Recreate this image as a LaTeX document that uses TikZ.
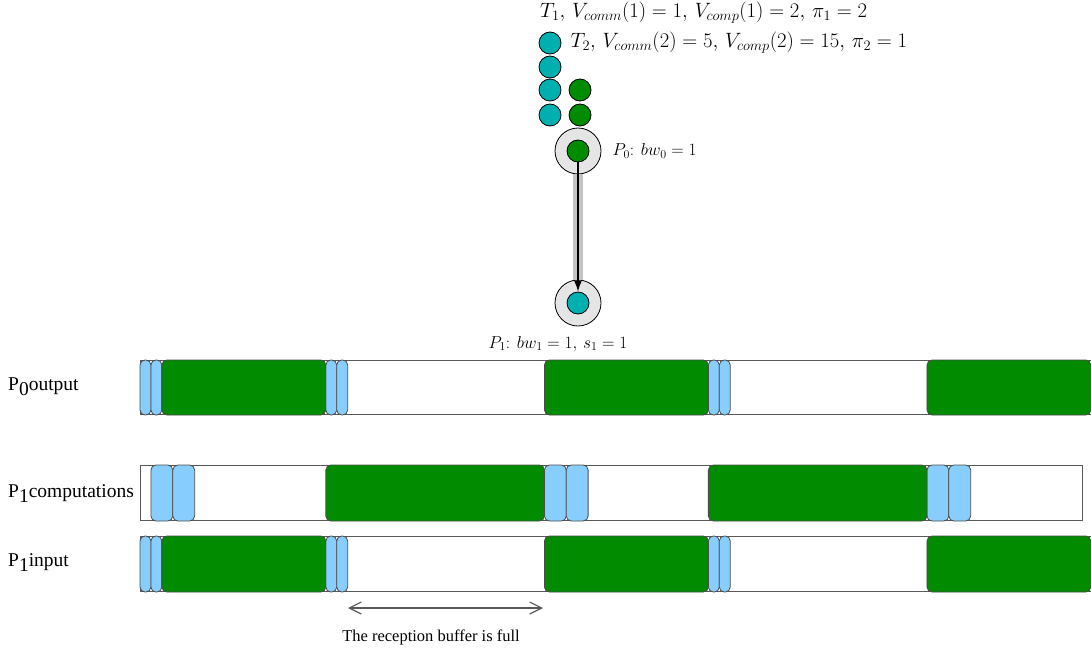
\documentclass[tikz,border=0pt]{standalone}
\usepackage{fontspec}
\newfontfamily\figfont{Liberation Serif}
\usepackage{tikz}
\usetikzlibrary{arrows.meta,positioning,calc}
\definecolor{taskone}{HTML}{00AFAF}
\definecolor{tasktwo}{HTML}{008B00}
\definecolor{commblue}{HTML}{87CEFF}
\definecolor{procgray}{HTML}{E5E5E5}
\definecolor{linkgray}{HTML}{C4C4C4}
\tikzset{
  net/task1/.style={draw, circle, fill=taskone, minimum size=22pt, inner sep=0pt, line width=0.8pt},
  net/task2/.style={net/task1, fill=tasktwo},
  net/proc/.style={draw, circle, fill=procgray, minimum size=46pt, inner sep=0pt, line width=0.8pt},
  net/label/.style={font=\fontsize{20.6}{22}\selectfont, inner sep=0pt},
  net/plabel/.style={font=\fontsize{17}{19}\selectfont, inner sep=0pt},
  net/link/.style={line width=10pt, draw=linkgray},
  net/arr/.style={-{Latex[length=11pt,width=8pt]}, line width=1.3pt},
  gantt/row/.style={draw=black!65, fill=white, line width=1pt, inner sep=0pt, anchor=north west},
  gantt/comm/.style={draw=black!70, fill=commblue, rounded corners=5pt, line width=0.8pt},
  gantt/comp/.style={draw=black!70, fill=tasktwo, rounded corners=5pt, line width=0.8pt},
  gantt/name/.style={font=\figfont\fontsize{19.5}{21}\selectfont, anchor=base west, inner sep=0pt},
  gantt/note/.style={font=\figfont\fontsize{16.5}{18}\selectfont, inner sep=0pt},
  gantt/span/.style={{Straight Barb[length=12pt,width=12pt]}-{Straight Barb[length=12pt,width=12pt]}, draw=black!65, line width=1.2pt}
}
\newcommand{\lowsub}[1]{\raisebox{-0.28em}{#1}}
\newcommand{\ux}{10.93}

\begin{document}
\begin{tikzpicture}[x=1pt, y=-1pt]
  \useasboundingbox (0,0) rectangle (1091,648);

  % tasks waiting on P0
  \foreach \y [count=\i] in {43,67,90,115}
    \node[net/task1] (ta\i) at (550,\y) {};
  \foreach \y [count=\i] in {90,115}
    \node[net/task2] (tb\i) at (580,\y) {};
  \node[net/label, anchor=west] (t1lbl) at (540,13) {$T_1,\, V_{comm}(1) = 1,\, V_{comp}(1) = 2,\, \pi_1 = 2$};
  \node[net/label, right=9pt of ta1] (t2lbl) {$T_2,\, V_{comm}(2) = 5,\, V_{comp}(2) = 15,\, \pi_2 = 1$};

  % processors
  \node[net/proc] (p0) at (578,151) {};
  \node[net/task2] (p0task) at (p0) {};
  \node[net/proc] (p1) at (578,303) {};
  \node[net/task1] (p1task) at (p1) {};
  \node[net/plabel, right=11pt of p0] (p0lbl) {$P_0$: $bw_0 = 1$};
  \node[net/plabel] (p1lbl) at (558,344) {$P_1$: $bw_1 = 1,\, s_1 = 1$};

  \draw[net/link] (p0) -- (p1);
  \draw[net/arr] (p0task) -- (p1task);

  % time lines
  \node[gantt/row, minimum width={87*\ux pt}, minimum height=54pt] (row0) at (140,360) {};
  \node[gantt/row, minimum width={86.2*\ux pt}, minimum height=55pt] (row1) at (140,465) {};
  \node[gantt/row, minimum width={87*\ux pt}, minimum height=55pt] (row2) at (140,536) {};

  \foreach \r in {row0,row2} {
    \foreach \a/\b in {0/1,1/2,17/18,18/19,52/53,53/54}
      \draw[gantt/comm] ($(\r.north west)+({\a*\ux},0)$) rectangle ($(\r.south west)+({\b*\ux},0)$);
    \foreach \a/\b in {2/17,37/52,72/87}
      \draw[gantt/comp] ($(\r.north west)+({\a*\ux},0)$) rectangle ($(\r.south west)+({\b*\ux},0)$);
  }
  \foreach \a/\b in {1/3,3/5,37/39,39/41,72/74,74/76}
    \draw[gantt/comm] ($(row1.north west)+({\a*\ux},0)$) rectangle ($(row1.south west)+({\b*\ux},0)$);
  \foreach \a/\b in {17/37,52/72}
    \draw[gantt/comp] ($(row1.north west)+({\a*\ux},0)$) rectangle ($(row1.south west)+({\b*\ux},0)$);

  \node[gantt/name] (row0lbl) at (8,390) {P\lowsub{0}output};
  \node[gantt/name] (row1lbl) at (8,497) {P\lowsub{1}computations};
  \node[gantt/name] (row2lbl) at (8,566) {P\lowsub{1}input};

  % full buffer
  \coordinate (bufa) at (348,608);
  \coordinate (bufb) at (543,608);
  \draw[gantt/span] (bufa) -- (bufb);
  \node[gantt/note] (buflbl) at (431,637) {The reception buffer is full};
\end{tikzpicture}
\end{document}
